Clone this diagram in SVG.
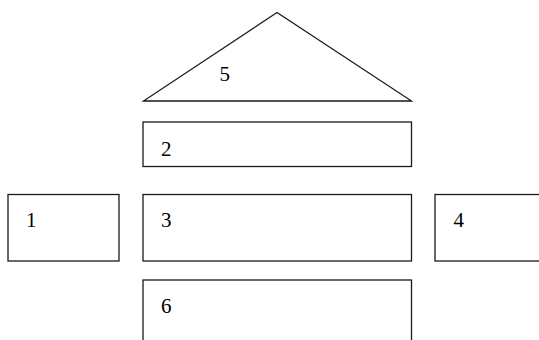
<svg xmlns="http://www.w3.org/2000/svg" width="539" height="340" viewBox="0 0 539 340">
<style>
.s{fill:#fff;stroke:#1a1a1a;stroke-width:1.3}
.t{font-family:"Liberation Serif","Times New Roman",serif;font-size:21px;fill:#000}
</style>
<rect width="539" height="340" fill="#fff"/>
<g id="n5"><polygon class="s" points="277,12.5 143.5,101 411.5,101"/><text class="t" x="219.5" y="80.5">5</text></g>
<g id="n2"><rect class="s" x="143" y="122" width="268.5" height="44.5"/><text class="t" x="161" y="155.5">2</text></g>
<g id="n1"><rect class="s" x="8" y="194.5" width="111" height="66.5"/><text class="t" x="26" y="227">1</text></g>
<g id="n3"><rect class="s" x="143" y="194.5" width="268.5" height="66.5"/><text class="t" x="161" y="227">3</text></g>
<g id="n4"><rect class="s" x="435" y="194.5" width="110" height="66.5"/><text class="t" x="453.5" y="227">4</text></g>
<g id="n6"><rect class="s" x="143" y="280" width="268.5" height="70"/><text class="t" x="161" y="312.5">6</text></g>
<g id="connectors"></g>
</svg>
